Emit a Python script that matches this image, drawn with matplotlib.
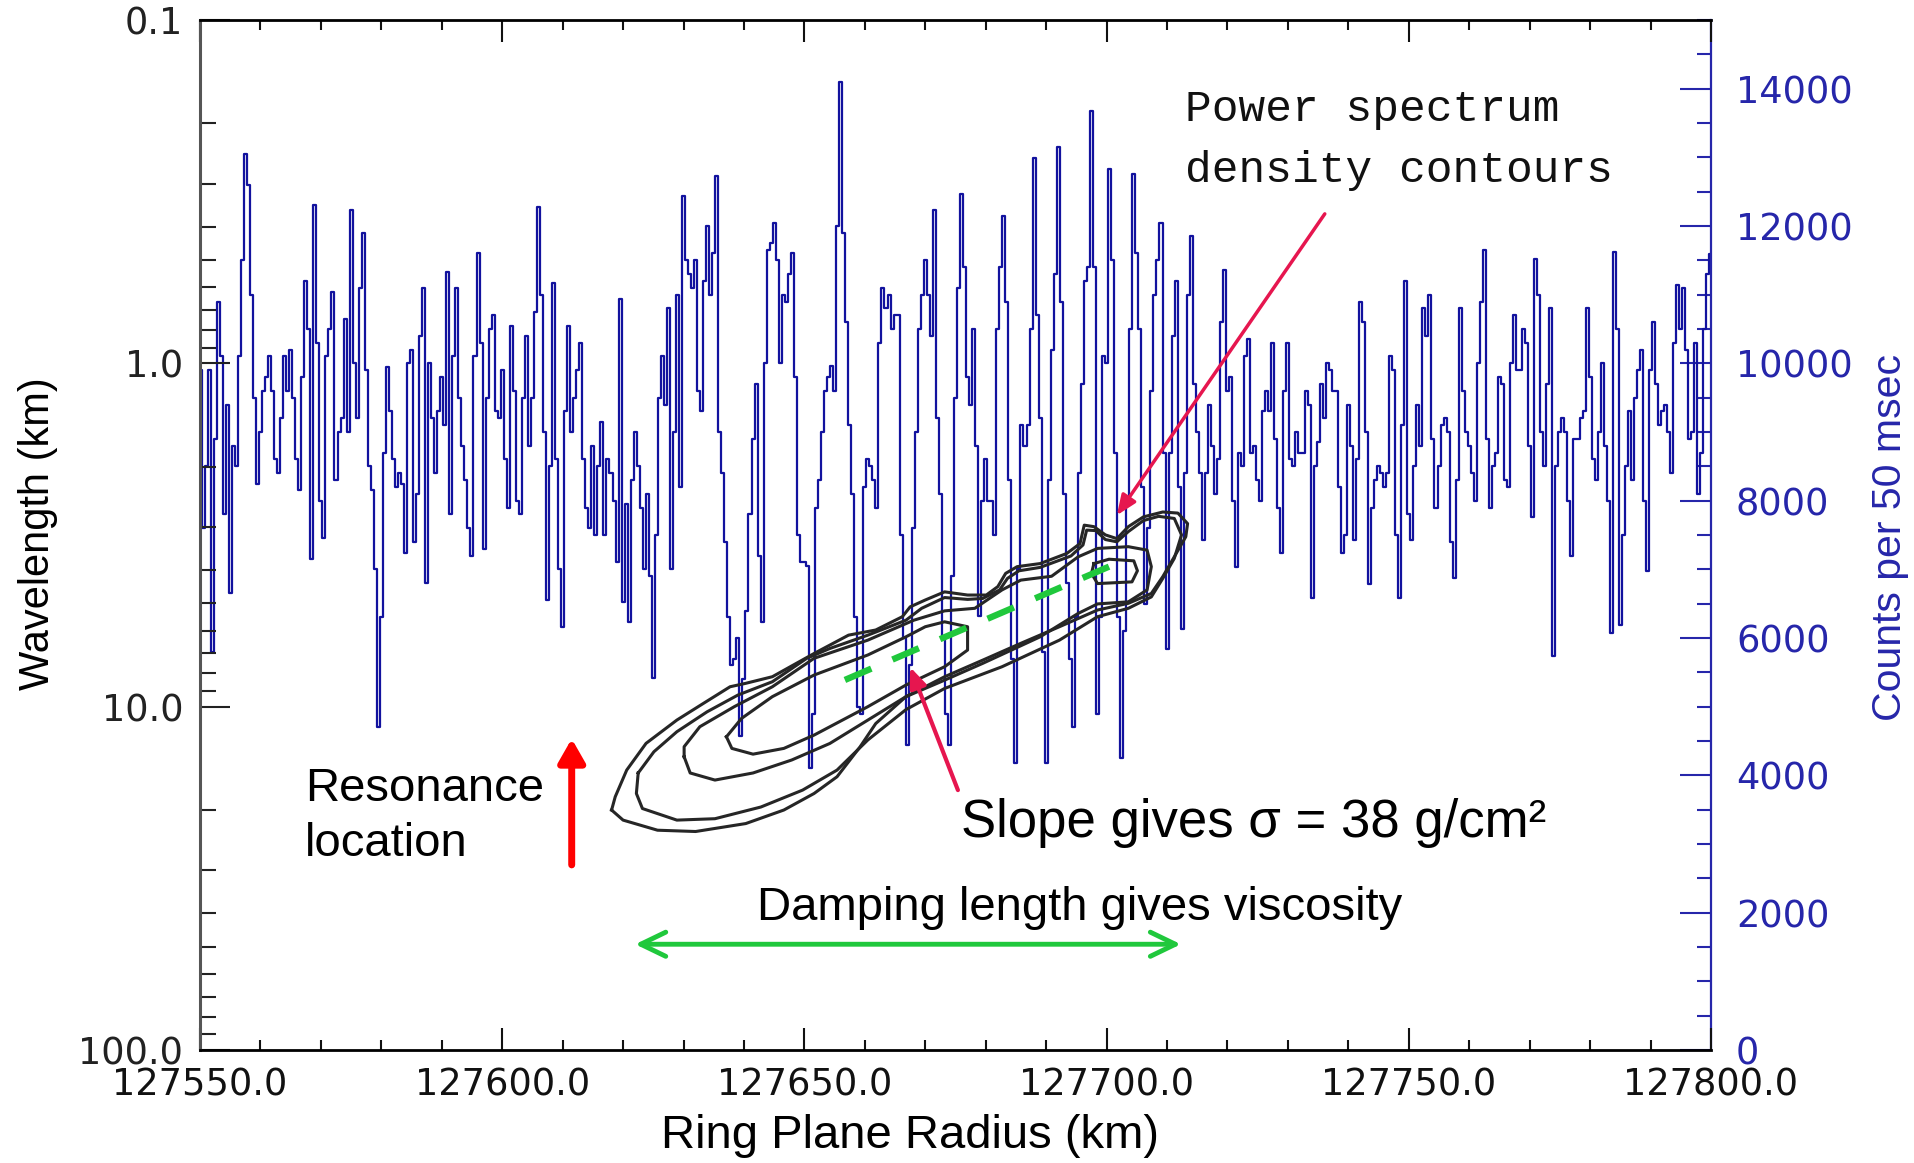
import numpy as np
import matplotlib
matplotlib.use("Agg")
import matplotlib.pyplot as plt
from matplotlib.ticker import FixedLocator, MultipleLocator, LogLocator, NullFormatter

# occultation counts, one value every 0.5 km starting at 127550 km
radius_start = 127550.0
radius_step = 0.5
counts = [
    9900, 7600, 8500, 9900, 5800, 8900, 10900, 10100, 7800, 9400,
    6650, 8800, 8500, 10100, 11500, 13050, 12600, 11000, 9500, 8250,
    9000, 9600, 9800, 10100, 9600, 8600, 8400, 9200, 10100, 9600,
    10200, 9500, 8600, 8150, 9800, 11200, 10500, 7150, 12300, 10300,
    8000, 7460, 10100, 10500, 11040, 8300, 9000, 9200, 10650, 9000,
    12240, 10000, 9200, 11100, 11900, 9900, 8500, 8150, 7000, 4700,
    6300, 8700, 9950, 9300, 8600, 8200, 8400, 8250, 7235, 10000,
    10200, 7400, 8100, 10400, 11100, 6800, 10000, 9200, 8400, 9300,
    9800, 9100, 11330, 7800, 10100, 11100, 9500, 8800, 8300, 7600,
    7200, 10100, 11600, 10300, 7300, 9500, 10500, 10700, 9300, 9200,
    9900, 8600, 7900, 10550, 9600, 8000, 7800, 9500, 10400, 8800,
    9500, 10750, 12270, 11000, 9000, 6550, 8500, 11170, 8600, 7000,
    6160, 9300, 10550, 9000, 9500, 9900, 10300, 8600, 7900, 7600,
    8800, 7500, 8500, 9150, 7500, 8600, 8400, 8000, 7100, 10940,
    6520, 7950, 6230, 8300, 9000, 8500, 7900, 7000, 8100, 6900,
    5416, 7500, 9500, 10100, 9400, 10810, 7000, 9000, 11000, 8200,
    12436, 11500, 11300, 11100, 11500, 9600, 9300, 11200, 12000, 11000,
    11600, 12730, 9000, 8400, 7400, 6300, 5610, 5700, 6000, 4570,
    5400, 6400, 7800, 8900, 9700, 7200, 6230, 10000, 11650, 11750,
    12040, 11500, 10000, 11000, 10900, 11300, 11600, 9800, 7500, 7100,
    7100, 7050, 4100, 4900, 7900, 8300, 9000, 9600, 9800, 9966,
    9600, 12000, 14100, 11900, 10600, 9100, 8100, 6300, 5000, 4900,
    8200, 8600, 8500, 8300, 7900, 10300, 11100, 10800, 11000, 10500,
    10700, 10700, 7500, 6000, 4440, 5600, 7600, 9000, 10500, 11000,
    11500, 11000, 10400, 12240, 9200, 8100, 6000, 4900, 4440, 6900,
    9500, 11100, 12470, 11400, 9800, 9400, 10500, 8800, 6326, 8000,
    8600, 8000, 8000, 7500, 10500, 11400, 12150, 10900, 8300, 5700,
    4180, 7000, 9100, 8800, 9100, 10500, 12990, 10700, 9200, 5800,
    4180, 8300, 10200, 11300, 13150, 10900, 8100, 6800, 5700, 4700,
    6300, 8400, 9700, 11200, 11400, 13670, 11400, 4900, 6300, 10100,
    10000, 12826, 11500, 8700, 6300, 4246, 6100, 8000, 10500, 12760,
    11600, 10500, 8200, 6500, 7600, 9600, 11000, 11500, 12046, 8700,
    5840, 8700, 10400, 11200, 8200, 6130, 8400, 11000, 11850, 9700,
    9000, 8400, 7430, 8400, 9400, 8800, 8100, 8600, 10600, 11360,
    9600, 9800, 8000, 7040, 8700, 8500, 10100, 10356, 8700, 8800,
    8300, 8000, 9300, 9600, 9300, 10290, 8900, 7900, 7236, 9600,
    10300, 8600, 8500, 9000, 8700, 8700, 9600, 9400, 6586, 8500,
    8850, 9700, 9200, 10000, 9900, 9600, 9600, 8200, 7236, 7500,
    9400, 8800, 7430, 8600, 10900, 10600, 9000, 6780, 7900, 8300,
    8500, 8400, 8200, 8400, 10100, 9900, 7500, 6586, 9100, 11200,
    7800, 7430, 8500, 9400, 8800, 10800, 10400, 11000, 8900, 7900,
    8500, 9100, 9200, 9000, 7400, 6880, 8300, 10800, 9600, 9000,
    8800, 8400, 8000, 10000, 10900, 11650, 8900, 7900, 8500, 8700,
    9800, 9700, 8300, 8200, 10000, 10700, 9900, 9900, 10500, 10300,
    8800, 7756, 11526, 11000, 9000, 8500, 9700, 10800, 5740, 8500,
    9000, 9200, 9000, 8000, 7200, 8900, 8900, 9200, 9300, 10800,
    9800, 8600, 8300, 9000, 10000, 8800, 8000, 6066, 11620, 10500,
    6196, 7500, 8500, 9300, 8300, 9500, 9900, 10200, 8000, 6976,
    9900, 10600, 9700, 9100, 9300, 9400, 9000, 8400, 10300, 11136,
    10500, 11100, 10200, 8900, 9000, 10300, 8100, 8700, 10500, 11300,
    11590,
]

# power spectrum density contours (radius km, wavelength km)
c1_r = [127618.1, 127620.0, 127625.7, 127632.0, 127640.3, 127646.6, 127651.6, 127655.4,
        127659.2, 127661.8, 127666.8, 127673.2, 127679.5, 127685.8, 127692.2, 127698.5,
        127703.6, 127707.4, 127709.3, 127711.2, 127713.1, 127713.4, 127711.8, 127709.3,
        127706.1, 127703.6, 127701.7, 127699.8, 127697.9, 127696.3, 127695.6, 127693.4,
        127689.0, 127685.2, 127683.3, 127682.0, 127680.1, 127677.0, 127673.2, 127670.0,
        127667.5, 127666.2, 127661.8, 127657.3, 127651.6, 127644.7, 127640.3, 127637.7,
        127633.3, 127628.9, 127623.8, 127620.6, 127618.7]
c1_w = [20.0, 21.4, 22.9, 23.1, 21.9, 20.0, 17.9, 16.0, 13.1, 11.2, 9.35, 8.18, 7.32,
        6.54, 5.85, 5.23, 5.00, 4.68, 4.18, 3.66, 3.20, 2.93, 2.73, 2.71, 2.80, 2.99,
        3.24, 3.16, 2.99, 2.96, 3.35, 3.58, 3.83, 3.91, 4.09, 4.47, 4.73, 4.73, 4.63,
        4.89, 5.12, 5.47, 5.98, 6.19, 7.00, 8.18, 8.55, 8.75, 9.78, 10.94, 12.79, 15.30,
        18.3]
c2_r = [127622.5, 127622.2, 127623.2, 127628.9, 127635.2, 127642.8, 127649.7, 127655.4,
        127660.5, 127666.8, 127673.2, 127682.7, 127692.2, 127698.5, 127703.6, 127707.4,
        127709.3, 127711.2, 127712.4, 127711.2, 127708.6, 127706.1, 127703.6, 127701.7,
        127699.8, 127698.2, 127696.7, 127696.1, 127694.1, 127689.0, 127685.5, 127683.6,
        127682.3, 127679.5, 127677.0, 127673.2, 127669.4, 127666.8, 127660.5, 127654.2,
        127650.4, 127644.7, 127639.0, 127633.9, 127628.9, 127625.1]
c2_w = [15.6, 17.9, 19.8, 21.4, 21.2, 19.6, 17.5, 15.3, 12.5, 10.2, 8.85, 7.65, 6.40,
        5.47, 5.17, 4.79, 4.23, 3.70, 3.16, 2.83, 2.79, 2.87, 3.09, 3.31, 3.26, 3.07,
        3.06, 3.38, 3.64, 3.93, 4.02, 4.23, 4.57, 4.84, 4.87, 4.81, 5.17, 5.60, 6.19,
        6.77, 7.23, 8.46, 9.25, 10.35, 11.83, 13.53]
c3_r = [127630.1, 127631.1, 127635.2, 127641.5, 127647.9, 127654.2, 127660.5, 127666.8,
        127673.2, 127679.5, 127689.0, 127695.3, 127698.5, 127703.6, 127706.7, 127707.4,
        127706.7, 127703.6, 127698.5, 127695.3, 127690.9, 127685.8, 127682.7, 127678.2,
        127673.2, 127668.1, 127660.5, 127651.6, 127644.7, 127638.4, 127632.7, 127630.1]
c3_w = [13.99, 15.6, 16.36, 15.6, 14.3, 12.8, 10.94, 9.35, 8.37, 7.48, 6.26, 5.35, 5.02,
        4.95, 4.57, 3.91, 3.50, 3.42, 3.46, 3.66, 4.17, 4.28, 4.57, 5.17, 5.26, 5.60,
        6.40, 7.23, 8.75, 10.0, 11.44, 13.08]
c4_r = [127637.1, 127638.0, 127641.5, 127646.6, 127651.6, 127660.5, 127666.8, 127673.2,
        127677.0, 127677.0, 127673.2, 127670.0, 127666.8, 127660.5, 127651.6, 127644.7,
        127639.6]
c4_w = [12.24, 13.23, 13.75, 13.23, 12.1, 10.0, 8.65, 7.65, 6.84, 5.85, 5.66, 5.85, 6.26,
        7.07, 8.09, 9.35, 10.82]
c5_r = [127697.9, 127700.4, 127704.5, 127705.1, 127704.2, 127698.5, 127697.5]
c5_w = [3.83, 3.72, 3.76, 4.02, 4.33, 4.38, 4.09]
contours = [(c1_r, c1_w), (c2_r, c2_w), (c3_r, c3_w), (c4_r, c4_w), (c5_r, c5_w)]

# slope fit through the contour ridge
slope_r = [127656.7, 127700.4]
slope_w = [8.36, 3.91]

x_ticks = [127550, 127600, 127650, 127700, 127750, 127800]
x_labels = ["127550.0", "127600.0", "127650.0", "127700.0", "127750.0", "127800.0"]
wl_ticks = [0.1, 1.0, 10.0, 100.0]
wl_labels = ["0.1", "1.0", "10.0", "100.0"]
count_ticks = [0, 2000, 4000, 6000, 8000, 10000, 12000, 14000]

blue = "#12129e"
label_blue = "#2626aa"
crimson = "#e6164f"
green = "#20c83c"

fig = plt.figure(figsize=(19.15, 11.63), dpi=100)
ax = fig.add_axes([0.10444, 0.09716, 0.78903, 0.88564])
ax2 = ax.twinx()
ax.set_zorder(ax2.get_zorder() + 1)
ax.patch.set_visible(False)

# counts trace on the right axis
radius = radius_start + radius_step * np.arange(len(counts))
ax2.plot(radius, counts, drawstyle="steps-mid", color=blue, lw=1.6)
ax2.set_ylim(0, 15000)
ax2.yaxis.set_major_locator(FixedLocator(count_ticks))
ax2.yaxis.set_minor_locator(MultipleLocator(500))
ax2.tick_params(axis="y", which="major", direction="in", length=22, width=1.5,
                colors=label_blue, labelsize=26.5, pad=18)
ax2.tick_params(axis="y", which="minor", direction="in", length=10, width=1.5,
                colors=label_blue)
for s in ["left", "top", "bottom"]:
    ax2.spines[s].set_visible(False)
ax2.spines["right"].set_color(label_blue)
ax2.spines["right"].set_linewidth(1.6)
ax2.set_ylabel("Counts per 50 msec", color=label_blue, fontsize=29.5,
               family="Liberation Sans", rotation=90, va="center", ha="center")
ax2.yaxis.set_label_coords(1.1185, 0.498)

# wavelength axis (log, inverted)
ax.set_xlim(127550, 127800)
ax.set_yscale("log")
ax.set_ylim(100, 0.1)
ax.yaxis.set_major_locator(FixedLocator(wl_ticks))
ax.set_yticklabels(wl_labels)
ax.yaxis.set_minor_locator(LogLocator(base=10, subs=range(2, 10)))
ax.yaxis.set_minor_formatter(NullFormatter())
ax.xaxis.set_major_locator(FixedLocator(x_ticks))
ax.set_xticklabels(x_labels)
ax.xaxis.set_minor_locator(MultipleLocator(10))

ax.tick_params(axis="x", which="both", direction="in", top=True, labelsize=26.5,
               pad=12, colors="#111111", width=1.5)
ax.tick_params(axis="x", which="major", length=16)
ax.tick_params(axis="x", which="minor", length=7.5)
ax.tick_params(axis="y", which="both", direction="in", right=False, width=1.5,
               colors="#222222", labelsize=26.5, pad=12)
ax.tick_params(axis="y", which="major", length=21.6)
ax.tick_params(axis="y", which="minor", length=11.5)

ax.spines["right"].set_visible(False)
ax.spines["left"].set_color("#555555")
ax.spines["left"].set_linewidth(2.2)
ax.spines["top"].set_linewidth(2)
ax.spines["bottom"].set_linewidth(2)

ax.set_xlabel("Ring Plane Radius (km)", fontsize=34, family="Liberation Sans",
              va="center")
ax.xaxis.set_label_coords(0.47, -0.0835)
ax.set_ylabel("Wavelength (km)", fontsize=30, family="Liberation Sans",
              va="center", ha="center")
ax.yaxis.set_label_coords(-0.1075, 0.501)

# contours
for cr, cw in contours:
    ax.plot(cr + cr[:1], cw + cw[:1], color="#262626", lw=2.2, zorder=3)

ax.plot(slope_r, slope_w, color=green, lw=4.6, dashes=(4.5, 3.6), zorder=4)

# annotations
ax.annotate("", xy=(127701.7, 2.77), xytext=(127736.1, 0.367),
            arrowprops=dict(arrowstyle="-|>,head_length=0.6,head_width=0.25",
                            color=crimson, lw=2.5, mutation_scale=20,
                            shrinkA=0, shrinkB=0), zorder=5)
ax.annotate("", xy=(127667.5, 7.67), xytext=(127675.4, 17.5),
            arrowprops=dict(arrowstyle="-|>,head_length=0.6,head_width=0.25",
                            color=crimson, lw=3, mutation_scale=20,
                            shrinkA=0, shrinkB=0), zorder=5)
ax.annotate("", xy=(127611.5, 12.4), xytext=(127611.5, 28.9),
            arrowprops=dict(arrowstyle="-|>,head_length=0.7,head_width=0.4",
                            color="#ff0000", lw=5, mutation_scale=20,
                            shrinkA=0, shrinkB=0), zorder=5)
ax.annotate("", xy=(127712.3, 49.2), xytext=(127622.0, 49.2),
            arrowprops=dict(arrowstyle="<->,head_length=0.6,head_width=0.29",
                            color=green, lw=3.5, mutation_scale=30,
                            shrinkA=0, shrinkB=0), zorder=5)

ax.text(127713.0, 0.224, "Power spectrum\ndensity contours", fontsize=32,
        family="Liberation Mono", va="center", ha="left", linespacing=1.62,
        color="#111111")
ax.text(127567.4, 20.9, "Resonance\nlocation", fontsize=34,
        family="Liberation Sans", va="center", ha="left", linespacing=1.3)
ax.text(127675.9, 21.8, "Slope gives σ = 38 g/cm²", fontsize=38,
        family="Liberation Sans", va="center", ha="left")
ax.text(127695.6, 38.6, "Damping length gives viscosity", fontsize=34,
        family="Liberation Sans", va="center", ha="center")

fig.savefig("out.png", dpi=100)
